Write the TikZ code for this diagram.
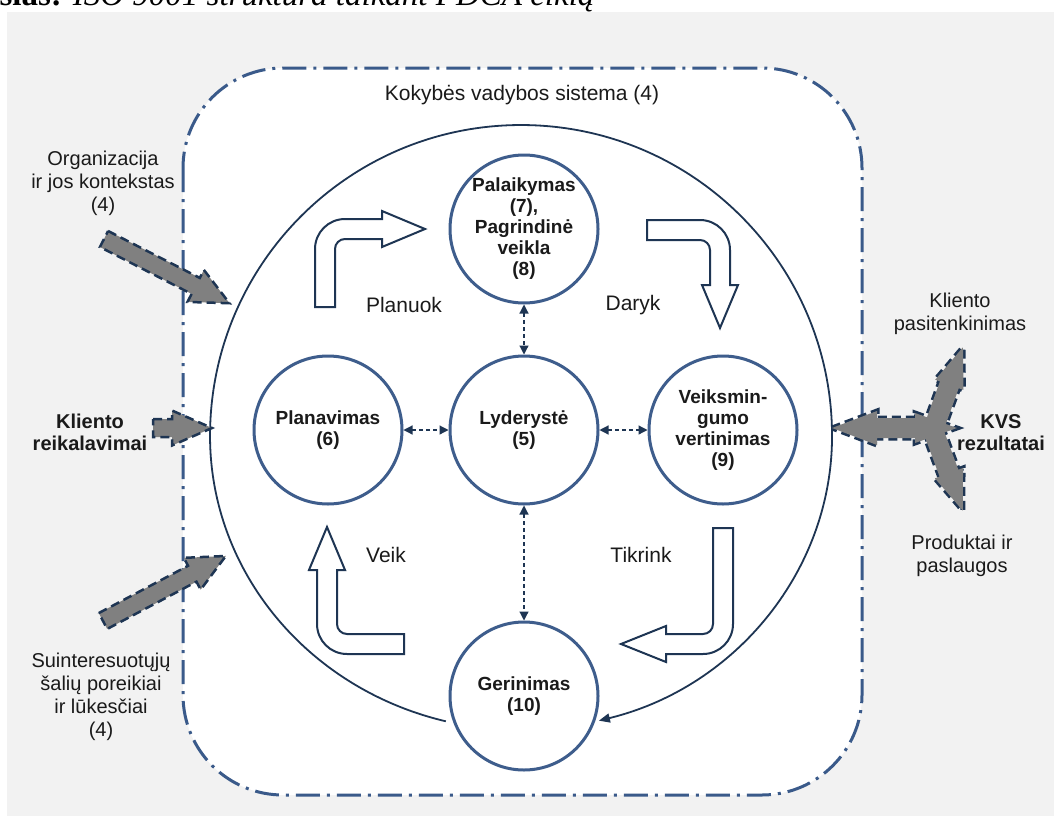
\documentclass[tikz,border=0pt]{standalone}
\usepackage{fontspec}
\setmainfont{Liberation Sans}
\newfontfamily\capfont{Liberation Serif}
\usetikzlibrary{arrows.meta}
\definecolor{bggray}{HTML}{F2F2F2}
\definecolor{frameblue}{HTML}{3A5A8A}
\definecolor{circblue}{HTML}{3E5D8C}
\definecolor{navy}{HTML}{1E3553}
\definecolor{arrgray}{HTML}{808080}
\definecolor{txt}{HTML}{1A1A1A}
% fat arrow: x y rot length headlen headhalf shafthalf style
\newcommand\gfat[8]{\begin{scope}[shift={(#1,#2)},rotate=#3]
\path[#8] (0,-#7) -- ({#4-#5},-#7) -- ({#4-#5},-#6) -- (#4,0) -- ({#4-#5},#6) -- ({#4-#5},#7) -- (0,#7) -- cycle;
\end{scope}}
\begin{document}
\begin{tikzpicture}[x=1pt,y=-1pt,
  frame/.style={draw=frameblue, line width=3pt, fill=white, rounded corners=100pt,
     dash pattern=on 24pt off 7pt on 3pt off 7pt},
  bigc/.style={draw=navy, line width=1.8pt, -{Triangle[length=11pt,width=9pt]}},
  proc/.style={circle, draw=circblue, line width=3pt, fill=white, minimum size=148pt,
     inner sep=0pt, align=center, text=txt, font=\bfseries\fontsize{19}{21}\selectfont},
  link/.style={draw=navy, line width=1.2pt, dash pattern=on 4pt off 3pt,
     {Triangle[length=9pt,width=9pt]}-{Triangle[length=9pt,width=9pt]}},
  blockarr/.style={draw=navy, line width=2pt, fill=white, line join=miter},
  fat/.style={fill=arrgray, draw=navy, line width=2.5pt, dash pattern=on 9pt off 5pt},
  fatline/.style={draw=navy, line width=5pt, dash pattern=on 9pt off 5pt},
  fatfill/.style={fill=arrgray},
  lbl/.style={text=txt, inner sep=0pt, font=\fontsize{21}{24}\selectfont},
  side/.style={text=txt, inner sep=0pt, align=center, font=\fontsize{20}{23}\selectfont},
  sideb/.style={text=txt, inner sep=0pt, align=center, font=\bfseries\fontsize{20}{22}\selectfont}]
\useasboundingbox (0,0) rectangle (1054,816);
\fill[white] (0,0) rectangle (1054,816);
\fill[bggray] (7,12) rectangle (1054,816);
\node[anchor=base west, inner sep=0pt, text=black, font=\capfont\fontsize{33}{38}\selectfont] (cap) at (-96,6)
  {\textbf{Paveikslas:} \textit{ISO 9001 struktūra taikant PDCA ciklą}};

% frame
\path[frame] (183,68) rectangle (862,795);
\node[lbl] (kvsys) at (522,95) {Kokybės vadybos sistema (4)};

% big cycle
\draw[bigc] (445.8,721.3) arc[start angle=104, end angle=180, x radius=311, y radius=294]
  arc[start angle=180, end angle=360, radius=311]
  arc[start angle=0, end angle=75.5, x radius=311, y radius=294];

% process circles
\node[proc] (pal) at (524,229) {Palaikymas\\(7),\\Pagrindinė\\veikla\\(8)};
\node[proc] (lyd) at (524,430) {Lyderystė\\(5)};
\node[proc] (plan) at (328,430) {Planavimas\\(6)};
\node[proc] (veik) at (723,430) {Veiksmin-\\gumo\\vertinimas\\(9)};
\node[proc] (ger) at (524,696) {Gerinimas\\(10)};

\draw[link] (plan) -- (lyd);
\draw[link] (lyd) -- (veik);
\draw[link] (pal) -- (lyd);
\draw[link] (lyd) -- (ger);

% block arrows
\draw[blockarr] (315,307) -- (315,249) arc[start angle=180, end angle=270, radius=30]
  -- (382,219) -- (382,211) -- (425,229) -- (382,247) -- (382,239) -- (345,239)
  arc[start angle=270, end angle=180, radius=10] -- (335,307) -- cycle;
\draw[blockarr] (647,220) -- (700,220) arc[start angle=270, end angle=360, radius=30]
  -- (730,285) -- (738,285) -- (720,328) -- (702,285) -- (710,285) -- (710,250)
  arc[start angle=0, end angle=-90, radius=10] -- (647,240) -- cycle;
\draw[blockarr] (713,528) -- (733,528) -- (733,624) arc[start angle=0, end angle=90, radius=30]
  -- (666,654) -- (666,662) -- (621,644) -- (666,626) -- (666,634) -- (703,634)
  arc[start angle=90, end angle=0, radius=10] -- cycle;
\draw[blockarr] (404,654) -- (347,654) arc[start angle=90, end angle=180, radius=30]
  -- (317,570) -- (309,570) -- (327,527) -- (345,570) -- (337,570) -- (337,624)
  arc[start angle=180, end angle=90, radius=10] -- (404,634) -- cycle;

\node[lbl] (planuok) at (404,305) {Planuok};
\node[lbl] (daryk) at (633,305) {Daryk};
\node[lbl] (veikl) at (386,555) {Veik};
\node[lbl] (tikrink) at (641,555) {Tikrink};

% gray input arrows
\gfat{104}{239}{-27.1}{141}{38}{18}{9}{fat}
\gfat{153}{428}{0}{59}{40}{17.5}{9}{fat}
\gfat{103}{621}{27.9}{139}{38}{18}{9}{fat}

% KVS output arrow (union outline)
\path[fatline] (832,428) -- (877,411) -- (877,418) -- (915,418) -- (915,413) -- (957,428)
  -- (915,443) -- (915,438) -- (877,438) -- (877,445) -- cycle;
\gfat{933}{430}{70.1}{88}{40}{15}{10}{fatline}
\gfat{933}{430}{-69.7}{86}{40}{15}{10}{fatline}
\path[fatfill] (832,428) -- (877,411) -- (877,418) -- (915,418) -- (915,413) -- (957,428)
  -- (915,443) -- (915,438) -- (877,438) -- (877,445) -- cycle;
\gfat{933}{430}{70.1}{88}{40}{15}{10}{fatfill}
\gfat{933}{430}{-69.7}{86}{40}{15}{10}{fatfill}

% side texts
\node[side] (org) at (103,183) {Organizacija\\ir jos kontekstas\\(4)};
\node[sideb] (kreik) at (90,432) {Kliento\\reikalavimai};
\node[side] (sui) at (101,697) {Suinteresuotųjų\\šalių poreikiai\\ir lūkesčiai\\(4)};
\node[side] (kpas) at (960,314) {Kliento\\pasitenkinimas};
\node[sideb] (kvsr) at (1001,433) {KVS\\rezultatai};
\node[side] (prod) at (962,556) {Produktai ir\\paslaugos};
\end{tikzpicture}
\end{document}
